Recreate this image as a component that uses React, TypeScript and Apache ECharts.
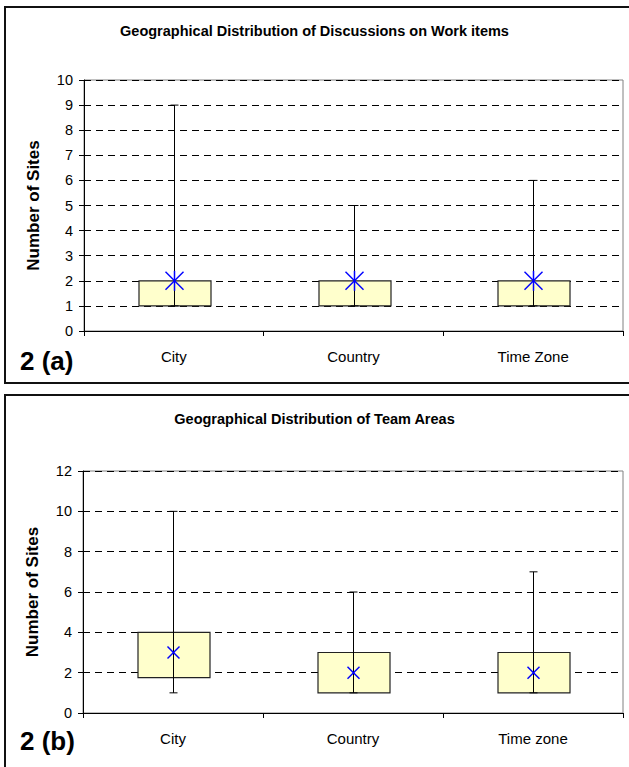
import React, { useEffect, useRef } from "react";
import * as echarts from "echarts";

const titleA = "Geographical Distribution of Discussions on Work items";
const titleB = "Geographical Distribution of Team Areas";
const yNameA = "Number of Sites";
const yNameB = "Number of Sites";
const panelA = "2 (a)";
const panelB = "2 (b)";

const categoriesA = ["City", "Country", "Time Zone"];
const minA = [1, 1, 1];
const q1A = [1, 1, 1];
const q3A = [2, 2, 2];
const maxA = [9, 5, 6];
const meanA = [2, 2, 2];
const yMinA = 0;
const yMaxA = 10;
const yStepA = 1;

const categoriesB = ["City", "Country", "Time zone"];
const minB = [1, 1, 1];
const q1B = [1.75, 1, 1];
const q3B = [4, 3, 3];
const maxB = [10, 6, 7];
const meanB = [3, 2, 2];
const yMinB = 0;
const yMaxB = 12;
const yStepB = 2;

const FONT = 'Arial, "Liberation Sans", Helvetica, sans-serif';

function buildData(mins: number[], q1s: number[], q3s: number[], maxs: number[], means: number[]) {
  return mins.map((m, i) => [i, m, q1s[i], q3s[i], maxs[i], means[i]]);
}

function makeRender(star: boolean) {
  return (_params: any, api: any) => {
    const i = api.value(0);
    const lo = api.coord([i, api.value(1)]);
    const q1 = api.coord([i, api.value(2)]);
    const q3 = api.coord([i, api.value(3)]);
    const hi = api.coord([i, api.value(4)]);
    const mp = api.coord([i, api.value(5)]);
    const bw = api.size([1, 0])[0] * 0.4;
    const x = Math.round(lo[0]) + 0.5;
    const cap = 4;
    const r = star ? 9 : 6;
    const blue = { stroke: "#0000FF", lineWidth: 1.5 };
    const black = { stroke: "#000", lineWidth: 1 };
    const children: any[] = [
      {
        type: "rect",
        shape: { x: Math.round(x - bw / 2), y: q3[1], width: Math.round(bw), height: q1[1] - q3[1] },
        style: { fill: "#FFFFCC", stroke: "#222", lineWidth: 1.2 },
      },
      { type: "line", shape: { x1: x, y1: hi[1], x2: x, y2: lo[1] }, style: black },
      { type: "line", shape: { x1: x - cap, y1: hi[1], x2: x + cap, y2: hi[1] }, style: black },
      { type: "line", shape: { x1: x - cap, y1: lo[1], x2: x + cap, y2: lo[1] }, style: black },
      { type: "line", shape: { x1: x - r, y1: mp[1] - r, x2: x + r, y2: mp[1] + r }, style: blue },
      { type: "line", shape: { x1: x - r, y1: mp[1] + r, x2: x + r, y2: mp[1] - r }, style: blue },
    ];
    if (star) {
      children.push({ type: "line", shape: { x1: x, y1: mp[1] - r - 1, x2: x, y2: mp[1] + r + 1 }, style: blue });
    }
    return { type: "group", children };
  };
}

function yAxis(gridIndex: number, min: number, max: number, step: number, name: string) {
  return {
    type: "value",
    gridIndex,
    min,
    max,
    interval: step,
    name,
    nameLocation: "middle",
    nameGap: 42,
    nameRotate: 90,
    nameTextStyle: { fontFamily: FONT, fontWeight: "bold", fontSize: 17, color: "#000" },
    axisLine: { show: true, lineStyle: { color: "#000", width: 1 } },
    axisTick: { show: true, length: 5, lineStyle: { color: "#000" } },
    axisLabel: { color: "#000", fontFamily: FONT, fontSize: 14.5, margin: 11 },
    splitLine: { show: true, lineStyle: { color: "#000", type: [7, 5], width: 1 } },
  };
}

function xAxis(gridIndex: number, cats: string[]) {
  return {
    type: "category",
    gridIndex,
    data: cats,
    axisLine: { show: true, lineStyle: { color: "#000", width: 1 } },
    axisTick: { show: true, length: 5, interval: 0, lineStyle: { color: "#000" } },
    axisLabel: { color: "#000", fontFamily: FONT, fontSize: 15, margin: 18, interval: 0 },
    splitLine: { show: false },
  };
}

export default function App() {
  const ref = useRef<HTMLDivElement>(null);
  useEffect(() => {
    if (!ref.current) return;
    const chart = echarts.init(ref.current, undefined, { renderer: "svg" });
    chart.setOption({
      animation: false,
      backgroundColor: "#fff",
      title: [
        { text: titleA, left: "center", top: 18, textStyle: { fontFamily: FONT, fontWeight: "bold", fontSize: 14.5, color: "#000" } },
        { text: titleB, left: "center", top: 406, textStyle: { fontFamily: FONT, fontWeight: "bold", fontSize: 14.5, color: "#000" } },
      ],
      grid: [
        { left: 84, top: 80, width: 539, height: 251, show: true, borderColor: "#808080", borderWidth: 1, backgroundColor: "transparent" },
        { left: 83, top: 471, width: 540, height: 242, show: true, borderColor: "#808080", borderWidth: 1, backgroundColor: "transparent" },
      ],
      xAxis: [xAxis(0, categoriesA), xAxis(1, categoriesB)],
      yAxis: [yAxis(0, yMinA, yMaxA, yStepA, yNameA), yAxis(1, yMinB, yMaxB, yStepB, yNameB)],
      graphic: [
        { type: "rect", shape: { x: 5, y: 7, width: 680, height: 376 }, style: { fill: "none", stroke: "#111", lineWidth: 2 }, silent: true, z: 100 },
        { type: "rect", shape: { x: 5, y: 395, width: 680, height: 420 }, style: { fill: "none", stroke: "#111", lineWidth: 2 }, silent: true, z: 100 },
        { type: "text", x: 20, y: 348, style: { text: panelA, font: `bold 26px ${FONT}`, fill: "#000", textVerticalAlign: "top" }, z: 100 },
        { type: "text", x: 20, y: 728, style: { text: panelB, font: `bold 26px ${FONT}`, fill: "#000", textVerticalAlign: "top" }, z: 100 },
      ],
      series: [
        {
          type: "custom",
          xAxisIndex: 0,
          yAxisIndex: 0,
          renderItem: makeRender(true),
          encode: { x: 0, y: [1, 2, 3, 4, 5] },
          data: buildData(minA, q1A, q3A, maxA, meanA),
          z: 5,
        },
        {
          type: "custom",
          xAxisIndex: 1,
          yAxisIndex: 1,
          renderItem: makeRender(false),
          encode: { x: 0, y: [1, 2, 3, 4, 5] },
          data: buildData(minB, q1B, q3B, maxB, meanB),
          z: 5,
        },
      ],
    });
    return () => chart.dispose();
  }, []);
  return <div ref={ref} style={{ position: "absolute", left: 0, top: 0, width: 629, height: 767 }} />;
}
